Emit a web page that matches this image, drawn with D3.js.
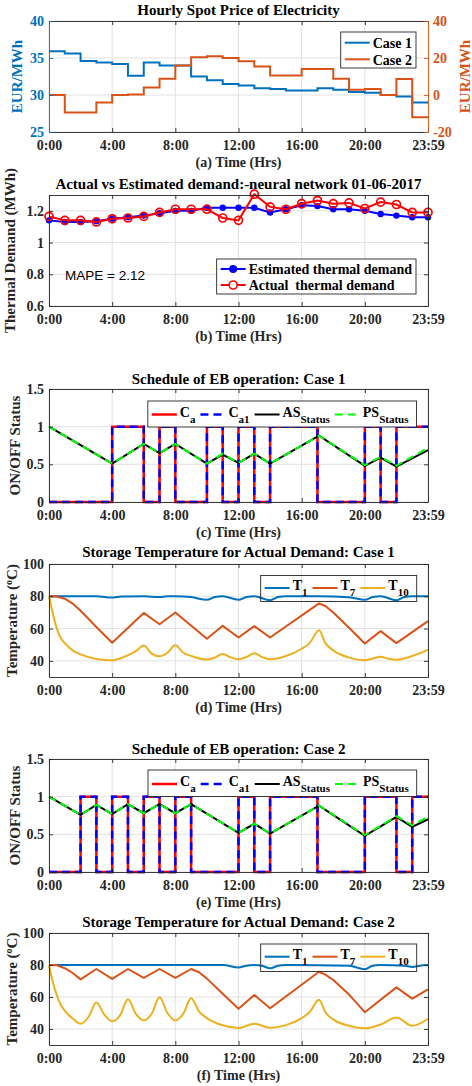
<!DOCTYPE html>
<html>
<head>
<meta charset="utf-8">
<script src="https://cdn.jsdelivr.net/npm/d3@7"></script>
<style>
body { margin: 0; background: #fff; }
svg text { font-family: "Liberation Serif", "Times New Roman", serif; font-weight: bold; }
</style>
</head>
<body>
<svg id="chart" width="472" height="1086"></svg>
<script>
// axis layout shared by all six panels
var width = 472,
	height = 1086,
	LEFT = 49,
	RIGHT = 428,
	GRID = "#e2e2e2",
	AXIS = "#262626",
	BLUE = "#0072BD",
	ORANGE = "#D95319",
	YELLOW = "#EDB120";

var xTicks = [0, 4, 8, 12, 16, 20, 24];
var xTickLabels = ["0:00", "4:00", "8:00", "12:00", "16:00", "20:00", "23:59"];

// (a) hourly spot price, one value per hour 0..23
var priceCase1 = [35.9, 35.6, 34.6, 34.4, 34.2, 32.6, 34.4, 34.0, 34.0, 32.5, 32.0, 31.5,
	31.3, 30.9, 30.8, 30.6, 30.6, 30.9, 30.7, 30.4, 30.3, 30.0, 29.8, 29.0];
var priceCase2 = [0, -9.5, -9.5, -4, 0, 0.3, 4, 8.8, 16, 20.4, 21, 20,
	18.3, 15.4, 10.5, 10.5, 14, 14, 8.8, 2.8, 3.2, 0, 8.6, -12];

// (b) thermal demand, hours 0..24
var demandHours = [0, 1, 2, 3, 4, 5, 6, 7, 8, 9, 10, 11, 12, 13, 14, 15, 16, 17, 18, 19, 20, 21, 22, 23, 24];
var demandEstimated = [1.14, 1.13, 1.13, 1.135, 1.15, 1.16, 1.17, 1.185, 1.2, 1.2, 1.22, 1.22, 1.22,
	1.22, 1.19, 1.21, 1.235, 1.23, 1.21, 1.21, 1.2, 1.18, 1.17, 1.16, 1.16];
var demandActual = [1.165, 1.14, 1.14, 1.13, 1.15, 1.155, 1.165, 1.19, 1.21, 1.21, 1.21, 1.155, 1.14,
	1.305, 1.225, 1.21, 1.245, 1.265, 1.245, 1.25, 1.215, 1.255, 1.24, 1.19, 1.19];

// (c) EB schedule case 1, on/off per hour 0..23
var case1Ca = [0, 0, 0, 0, 1, 1, 0, 1, 0, 0, 1, 0, 1, 0, 1, 1, 1, 0, 0, 0, 1, 0, 1, 1];
var case1Ca1 = [0, 0, 0, 0, 1, 1, 0, 1, 0, 0, 1, 0, 1, 0, 1, 1, 1, 0, 0, 0, 1, 0, 1, 1];
var case1StatusHours = [0, 4, 6, 7, 8, 10, 11, 12, 13, 14, 17.1, 20, 21, 22, 24];
var case1AS = [1, 0.51, 0.77, 0.65, 0.77, 0.51, 0.63, 0.52, 0.64, 0.51, 0.88, 0.48, 0.59, 0.47, 0.69];
var case1PS = [1, 0.51, 0.77, 0.65, 0.77, 0.51, 0.64, 0.52, 0.64, 0.51, 0.88, 0.49, 0.6, 0.48, 0.72];

// (d) storage temperature case 1
var c1T1Hours = [0, 3, 4, 4.6, 6, 7, 7.5, 8, 9, 10, 10.5, 11, 12, 12.5, 13, 14, 14.5, 15, 17, 19, 20, 20.5, 21, 22, 22.5, 23, 24];
var c1T1 = [80, 80, 79.2, 79.9, 80, 79.5, 80, 80, 79.5, 77.8, 79.5, 80, 77.8, 79.5, 80, 77.6, 79.5, 80, 80, 79.4, 77.8, 79.5, 80, 77.5, 79.5, 80, 80];
var c1T7Hours = [0, 0.5, 1, 1.5, 2, 3, 4, 6, 7, 8, 10, 11, 12, 13, 14, 17.1, 17.5, 18, 19, 20, 21, 22, 24];
var c1T7 = [80, 79.8, 78.5, 75.5, 71, 61, 51.2, 69.7, 62.7, 70, 53.7, 61.7, 54.5, 61.5, 54.5, 75.6, 74, 70, 60.5, 50.8, 58.4, 51, 64.6];
var c1T10Hours = [0, 0.25, 0.5, 0.75, 1, 1.5, 2, 3, 4, 5, 5.5, 6, 6.5, 7, 7.5, 8, 8.5, 9, 10, 10.5, 11, 11.5, 12,
	12.5, 13, 13.5, 14, 15, 16, 16.5, 17.1, 17.5, 18, 19, 20, 21, 21.5, 22, 23, 23.5, 24];
var c1T10 = [80, 69, 60, 54, 51, 46.5, 44, 41.2, 40.3, 43.5, 46, 49.5, 44.5, 42.8, 45, 49.7, 45, 43, 40.8, 42, 44.3, 42.2, 41,
	42.4, 44.7, 42.3, 41, 43, 47.5, 51, 59, 51, 46.5, 42, 40.4, 42.5, 41.3, 40.7, 43, 44.8, 47];

// (e) EB schedule case 2
var case2Ca = [0, 0, 1, 0, 1, 0, 1, 0, 1, 0, 0, 0, 1, 0, 1, 1, 1, 0, 0, 0, 1, 1, 0, 1];
var case2Ca1 = [0, 0, 1, 0, 1, 0, 1, 0, 1, 0, 0, 0, 1, 0, 1, 1, 1, 0, 0, 0, 1, 1, 0, 1];
var case2StatusHours = [0, 2, 3, 4, 5, 6, 7, 8, 9, 12, 13, 14, 17.1, 20, 22, 23, 24];
var case2AS = [1, 0.76, 0.89, 0.77, 0.9, 0.78, 0.9, 0.78, 0.9, 0.52, 0.64, 0.51, 0.88, 0.48, 0.73, 0.6, 0.7];
var case2PS = [1, 0.76, 0.89, 0.77, 0.9, 0.78, 0.9, 0.78, 0.9, 0.52, 0.64, 0.51, 0.88, 0.49, 0.74, 0.62, 0.73];

// (f) storage temperature case 2
var c2T1Hours = [0, 11, 12, 12.5, 13, 13.5, 14, 14.5, 15, 19, 20, 20.5, 21, 22.5, 23, 23.5, 24];
var c2T1 = [80, 80, 78.5, 79.6, 80, 79.5, 77.9, 79.5, 80, 79.5, 77.4, 79.5, 80, 79.6, 78.8, 79.6, 80];
var c2T7Hours = [0, 0.5, 1, 1.5, 2, 3, 4, 5, 6, 7, 8, 9, 9.5, 10, 11, 12, 13, 14, 17.1, 17.5, 18, 19, 20, 22, 23, 24];
var c2T7 = [80, 79.8, 78, 75, 71, 77.5, 71.3, 77.5, 72, 77.5, 72, 77.5, 75.5, 71.5, 62, 52.6, 61.3, 53, 75.8, 74, 70.6, 61.5, 50.5, 66, 59, 64.8];
var c2T10Hours = [0, 0.25, 0.5, 0.75, 1, 1.5, 2, 2.5, 3, 3.5, 4, 4.5, 5, 5.5, 6, 6.5, 7, 7.5, 8, 8.5, 9, 9.5, 10, 11, 12,
	13, 14, 15, 16, 16.5, 17.1, 17.5, 18, 19, 20, 21, 22, 23, 24];
var c2T10 = [80, 69, 61, 55, 51.5, 46.5, 43.3, 47.5, 56.5, 49, 44.8, 48.5, 58.6, 49.5, 45.4, 49.5, 59.8, 50, 45.4, 49.5, 59.2, 51, 46.8, 42.3, 40.6,
	43.3, 40.8, 42.4, 46.8, 50.5, 58.3, 50.5, 46, 42, 40.4, 42.8, 47.2, 42, 46.4];

var svg = d3.select("#chart");

var zip = function(xs, ys) {
	return xs.map(function(h, i) { return [h, ys[i]]; });
};

// hourly values -> points for a step line that runs to 24:00
var stepPoints = function(vals) {
	return vals.map(function(v, i) { return [i, v]; }).concat([[vals.length, vals[vals.length - 1]]]);
};

var styleAxis = function(sel, color) {
	sel.attr("font-size", null).attr("font-family", null);
	sel.select(".domain").attr("stroke", color).attr("stroke-width", 0.9);
	sel.selectAll(".tick line").attr("stroke", color).attr("stroke-width", 0.9);
	sel.selectAll(".tick text").attr("fill", color).style("font-size", "14px");
};

var addLegend = function(g, items, opt) {
	var lg = g.append("g");
	var box = lg.append("rect")
		.attr("fill", opt.fill || "#fff")
		.attr("stroke", AXIS)
		.attr("stroke-width", 0.9);
	var cx = 4, maxW = 0;
	items.forEach(function(d, i) {
		var ly = opt.vertical ? opt.lineY + i * opt.rowStep : opt.lineY;
		var item = lg.append("g").attr("transform", "translate(" + cx + "," + ly + ")");
		item.append("line")
			.attr("x1", 0).attr("x2", 25)
			.attr("stroke", d.color)
			.attr("stroke-width", d.width || 2)
			.attr("stroke-dasharray", d.dash || null);
		if (d.marker) {
			item.append("circle")
				.attr("cx", 12.5).attr("r", d.marker.r)
				.attr("fill", d.marker.fill)
				.attr("stroke", d.color)
				.attr("stroke-width", 1.6);
		}
		var t = item.append("text")
			.attr("x", 28)
			.attr("y", opt.textDy)
			.attr("xml:space", "preserve")
			.style("font-size", "14px")
			.style("fill", "#000");
		t.append("tspan").text(d.label);
		if (d.sub) t.append("tspan").attr("dy", 6).style("font-size", "11px").text(d.sub);
		var w = 28 + t.node().getComputedTextLength();
		if (opt.vertical) {
			maxW = Math.max(maxW, w);
		} else {
			cx += w + 5;
			maxW = cx - 5;
		}
	});
	var bw = maxW + 8;
	box.attr("x", 0).attr("y", 0).attr("width", bw).attr("height", opt.height);
	lg.attr("transform", "translate(" + (opt.right - bw) + "," + opt.top + ")");
};

// one axes box: grid, data (via p.draw), axes, labels
var panel = function(p) {
	var x = d3.scaleLinear().domain([0, 24]).range([LEFT, RIGHT]);
	var y = d3.scaleLinear().domain(p.yDomain).range([p.bottom, p.top]);
	var g = svg.append("g");

	var grid = g.append("g").attr("stroke", GRID).attr("stroke-width", 1);
	grid.selectAll(".gx").data(xTicks).enter().append("line")
		.attr("x1", function(d) { return x(d); })
		.attr("x2", function(d) { return x(d); })
		.attr("y1", p.top).attr("y2", p.bottom);
	grid.selectAll(".gy").data(p.yTicks).enter().append("line")
		.attr("x1", LEFT).attr("x2", RIGHT)
		.attr("y1", function(d) { return y(d); })
		.attr("y2", function(d) { return y(d); });

	p.draw(g.append("g"), x, y);

	var bottomAxis = g.append("g")
		.attr("transform", "translate(0," + p.bottom + ")")
		.call(d3.axisBottom(x).tickValues(xTicks)
			.tickFormat(function(d, i) { return xTickLabels[i]; })
			.tickSize(-4).tickSizeOuter(0).tickPadding(8.5));
	styleAxis(bottomAxis, AXIS);

	var topAxis = g.append("g")
		.attr("transform", "translate(0," + p.top + ")")
		.call(d3.axisTop(x).tickValues(xTicks).tickFormat("").tickSize(-4).tickSizeOuter(0));
	styleAxis(topAxis, AXIS);

	var leftAxis = g.append("g")
		.attr("transform", "translate(" + LEFT + ",0)")
		.call(d3.axisLeft(y).tickValues(p.yTicks).tickFormat(String)
			.tickSize(-4).tickSizeOuter(0).tickPadding(5));
	styleAxis(leftAxis, p.leftColor || AXIS);

	if (p.yRight) {
		var rightAxis = g.append("g")
			.attr("transform", "translate(" + RIGHT + ",0)")
			.call(d3.axisRight(p.yRight).tickValues(p.yRightTicks).tickFormat(String)
				.tickSize(-4).tickSizeOuter(0).tickPadding(5));
		styleAxis(rightAxis, ORANGE);
	} else {
		var plainRight = g.append("g")
			.attr("transform", "translate(" + RIGHT + ",0)")
			.call(d3.axisRight(y).tickValues(p.yTicks).tickFormat("").tickSize(-4).tickSizeOuter(0));
		styleAxis(plainRight, AXIS);
	}

	// title and x label
	g.append("text")
		.attr("x", (LEFT + RIGHT) / 2).attr("y", p.titleY)
		.attr("text-anchor", "middle")
		.style("font-size", "15px").style("fill", "#000")
		.text(p.title);
	g.append("text")
		.attr("x", (LEFT + RIGHT) / 2).attr("y", p.bottom + 35)
		.attr("text-anchor", "middle")
		.style("font-size", "14px").style("fill", AXIS)
		.text(p.xlabel);

	// y label, rotated
	var mid = (p.top + p.bottom) / 2;
	var yl = g.append("text")
		.attr("transform", "translate(" + p.ylabelX + "," + mid + ") rotate(-90)")
		.attr("text-anchor", "middle")
		.attr("dy", "0.35em")
		.style("font-size", "15px")
		.style("fill", p.leftColor || AXIS);
	if (p.ylabel === "temp") {
		yl.append("tspan").text("Temperature (");
		yl.append("tspan").attr("dy", -5).style("font-size", "10px").text("o");
		yl.append("tspan").attr("dy", 5).text("C)");
	} else {
		yl.text(p.ylabel);
	}

	return { g: g, x: x, y: y };
};

var lineOf = function(x, y, curve) {
	return d3.line()
		.x(function(d) { return x(d[0]); })
		.y(function(d) { return y(d[1]); })
		.curve(curve || d3.curveLinear);
};

// ---------- (a) ----------
var aTop = 21, aBottom = 132;
var yPrice2 = d3.scaleLinear().domain([-20, 40]).range([aBottom, aTop]);
var pa = panel({
	top: aTop, bottom: aBottom, yDomain: [25, 40], yTicks: [25, 30, 35, 40],
	yRight: yPrice2, yRightTicks: [-20, 0, 20, 40],
	leftColor: BLUE,
	title: "Hourly Spot Price of Electricity", titleY: 15,
	xlabel: "(a) Time (Hrs)",
	ylabel: "EUR/MWh", ylabelX: 17,
	draw: function(g, x, y) {
		g.append("path").datum(stepPoints(priceCase1))
			.attr("d", lineOf(x, y, d3.curveStepAfter))
			.attr("fill", "none").attr("stroke", BLUE).attr("stroke-width", 2);
		g.append("path").datum(stepPoints(priceCase2))
			.attr("d", lineOf(x, yPrice2, d3.curveStepAfter))
			.attr("fill", "none").attr("stroke", ORANGE).attr("stroke-width", 2);
	}
});
svg.append("text")
	.attr("transform", "translate(465," + (aTop + aBottom) / 2 + ") rotate(-90)")
	.attr("text-anchor", "middle").attr("dy", "0.35em")
	.style("font-size", "15px").style("fill", ORANGE)
	.text("EUR/MWh");
addLegend(pa.g, [
	{ label: "Case 1", color: BLUE },
	{ label: "Case 2", color: ORANGE }
], { right: 416, top: 32, height: 36, vertical: true, lineY: 10.7, rowStep: 16.6, textDy: 5.3 });

// ---------- (b) ----------
var pb = panel({
	top: 195, bottom: 306, yDomain: [0.6, 1.3], yTicks: [0.6, 0.8, 1, 1.2],
	title: "Actual vs Estimated demand:-neural network 01-06-2017", titleY: 189,
	xlabel: "(b) Time (Hrs)",
	ylabel: "Thermal Demand (MWh)", ylabelX: 10,
	draw: function(g, x, y) {
		var est = zip(demandHours, demandEstimated);
		var act = zip(demandHours, demandActual);
		g.append("path").datum(est).attr("d", lineOf(x, y))
			.attr("fill", "none").attr("stroke", "#0000ff").attr("stroke-width", 2);
		g.selectAll(".est").data(est).enter().append("circle")
			.attr("cx", function(d) { return x(d[0]); })
			.attr("cy", function(d) { return y(d[1]); })
			.attr("r", 3.2).attr("fill", "#0000ff");
		g.append("path").datum(act).attr("d", lineOf(x, y))
			.attr("fill", "none").attr("stroke", "#ff0000").attr("stroke-width", 2);
		g.selectAll(".act").data(act).enter().append("circle")
			.attr("cx", function(d) { return x(d[0]); })
			.attr("cy", function(d) { return y(d[1]); })
			.attr("r", 4).attr("fill", "none")
			.attr("stroke", "#ff0000").attr("stroke-width", 1.7);
		g.append("text")
			.attr("x", 65).attr("y", 280)
			.style("font-family", "'Liberation Sans', Arial, sans-serif")
			.style("font-weight", "normal")
			.style("font-size", "13.5px")
			.style("fill", "#000")
			.text("MAPE = 2.12");
	}
});
addLegend(pb.g, [
	{ label: "Estimated thermal demand", color: "#0000ff", marker: { r: 3.2, fill: "#0000ff" } },
	{ label: "Actual  thermal demand", color: "#ff0000", marker: { r: 4, fill: "#fff" } }
], { right: 416, top: 259, height: 35, vertical: true, lineY: 10, rowStep: 16, textDy: 4.5 });

// ---------- (c) and (e): schedules ----------
var scheduleDraw = function(ca, ca1, sHours, as, ps) {
	return function(g, x, y) {
		g.append("path").datum(stepPoints(ca)).attr("d", lineOf(x, y, d3.curveStepAfter))
			.attr("fill", "none").attr("stroke", "#ff0000").attr("stroke-width", 2.5);
		g.append("path").datum(stepPoints(ca1)).attr("d", lineOf(x, y, d3.curveStepAfter))
			.attr("fill", "none").attr("stroke", "#0000ff").attr("stroke-width", 2.5)
			.attr("stroke-dasharray", "8,5");
		g.append("path").datum(zip(sHours, as)).attr("d", lineOf(x, y))
			.attr("fill", "none").attr("stroke", "#000").attr("stroke-width", 2);
		g.append("path").datum(zip(sHours, ps)).attr("d", lineOf(x, y))
			.attr("fill", "none").attr("stroke", "#00ff00").attr("stroke-width", 2)
			.attr("stroke-dasharray", "8,5");
	};
};
var scheduleItems = [
	{ label: "C", sub: "a", color: "#ff0000", width: 2.5 },
	{ label: "C", sub: "a1", color: "#0000ff", width: 2.5, dash: "8,5" },
	{ label: "AS", sub: "Status", color: "#000" },
	{ label: "PS", sub: "Status", color: "#00ff00", dash: "8,5" }
];

var pc = panel({
	top: 389, bottom: 502, yDomain: [0, 1.5], yTicks: [0, 0.5, 1, 1.5],
	title: "Schedule of EB operation: Case 1", titleY: 384,
	xlabel: "(c) Time (Hrs)",
	ylabel: "ON/OFF Status", ylabelX: 15,
	draw: scheduleDraw(case1Ca, case1Ca1, case1StatusHours, case1AS, case1PS)
});
addLegend(pc.g, scheduleItems, { right: 416.5, top: 401, height: 26, lineY: 13.5, textDy: 2 });

// ---------- (d) and (f): temperatures ----------
var tempDraw = function(t1, t7, t10) {
	return function(g, x, y) {
		g.append("path").datum(t1).attr("d", lineOf(x, y, d3.curveMonotoneX))
			.attr("fill", "none").attr("stroke", BLUE).attr("stroke-width", 2);
		g.append("path").datum(t7).attr("d", lineOf(x, y))
			.attr("fill", "none").attr("stroke", ORANGE).attr("stroke-width", 2)
			.attr("stroke-linejoin", "round");
		g.append("path").datum(t10).attr("d", lineOf(x, y, d3.curveMonotoneX))
			.attr("fill", "none").attr("stroke", YELLOW).attr("stroke-width", 2);
	};
};
var tempItems = [
	{ label: "T", sub: "1", color: BLUE },
	{ label: "T", sub: "7", color: ORANGE },
	{ label: "T", sub: "10", color: YELLOW }
];

var pd = panel({
	top: 564, bottom: 677, yDomain: [30, 100], yTicks: [40, 60, 80, 100],
	title: "Storage Temperature for Actual Demand: Case 1", titleY: 557,
	xlabel: "(d) Time (Hrs)",
	ylabel: "temp", ylabelX: 12,
	draw: tempDraw(zip(c1T1Hours, c1T1), zip(c1T7Hours, c1T7), zip(c1T10Hours, c1T10))
});
addLegend(pd.g, tempItems, { right: 416.7, top: 575.5, height: 26, lineY: 12.5, textDy: 2, fill: "none" });

var pe = panel({
	top: 759, bottom: 872, yDomain: [0, 1.5], yTicks: [0, 0.5, 1, 1.5],
	title: "Schedule of EB operation: Case 2", titleY: 754,
	xlabel: "(e) Time (Hrs)",
	ylabel: "ON/OFF Status", ylabelX: 15,
	draw: scheduleDraw(case2Ca, case2Ca1, case2StatusHours, case2AS, case2PS)
});
addLegend(pe.g, scheduleItems, { right: 416.7, top: 770, height: 26.5, lineY: 14, textDy: 2 });

var pf = panel({
	top: 933, bottom: 1045, yDomain: [30, 100], yTicks: [40, 60, 80, 100],
	title: "Storage Temperature for Actual Demand: Case 2", titleY: 927,
	xlabel: "(f) Time (Hrs)",
	ylabel: "temp", ylabelX: 12,
	draw: tempDraw(zip(c2T1Hours, c2T1), zip(c2T7Hours, c2T7), zip(c2T10Hours, c2T10))
});
addLegend(pf.g, tempItems, { right: 416.7, top: 944, height: 27.5, lineY: 12.7, textDy: 2, fill: "none" });
</script>
</body>
</html>
